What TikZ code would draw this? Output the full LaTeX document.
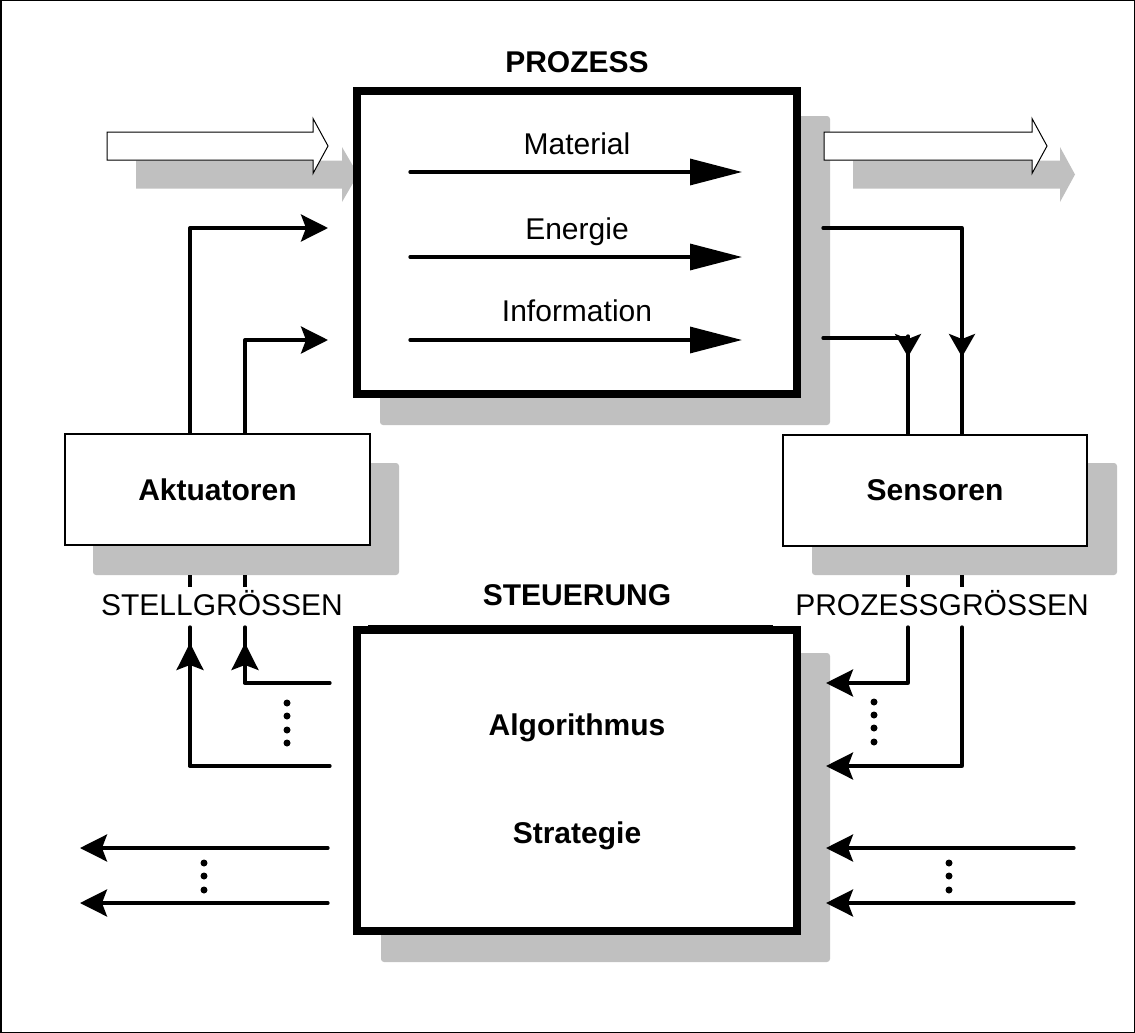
\documentclass[tikz,border=0pt]{standalone}
\usepackage{fontspec}
\setmainfont{Liberation Sans}
\usetikzlibrary{arrows.meta}
\definecolor{shadowgray}{RGB}{192,192,192}
\tikzset{
  bigbox/.style={draw, fill=white, line width=7.5pt, minimum width=440pt, minimum height=303pt, inner sep=0pt},
  smallbox/.style={draw, fill=white, line width=2pt, minimum width=305pt, minimum height=111pt, inner sep=0pt,
    font=\fontsize{30}{36}\selectfont\bfseries, text height=21.5pt, text depth=0pt},
  lbl/.style={inner sep=0pt, anchor=base, font=\fontsize{30}{36}\selectfont},
  blbl/.style={inner sep=0pt, anchor=base, font=\fontsize{30}{36}\selectfont\bfseries},
  conn/.style={line width=3.3pt, line cap=round, line join=round},
  tipS/.style={-{Stealth[length=27pt,width=27pt,inset=5pt]}},
  tipD/.style={-{Stealth[length=23pt,width=26pt,inset=5pt]}},
  tipBig/.style={-{Triangle[length=52pt,width=26pt]}},
  shadowfill/.style={fill=shadowgray, rounded corners=3pt},
  blkwhite/.style={draw, fill=white, line width=1pt, line join=miter},
  dotmark/.style={fill=black}
}
\begin{document}
\begin{tikzpicture}[x=1pt,y=-1pt]
\useasboundingbox (0,0) rectangle (1135,1033);
\draw[line width=1.5pt] (0.75,0.75) rectangle (1134.25,1032.25);

% block arrow shadows
\fill[shadowgray] (136,160.5) -- (342,160.5) -- (342,147) -- (358,174.5) -- (342,202) -- (342,188.5) -- (136,188.5) -- cycle;
\fill[shadowgray] (853,160.5) -- (1060,160.5) -- (1060,147) -- (1075,174.5) -- (1060,202) -- (1060,188.5) -- (853,188.5) -- cycle;

% box shadows
\fill[shadowfill] (380,116) rectangle (830,425);
\fill[shadowfill] (381,653) rectangle (830,962);
\fill[shadowfill] (93,463) rectangle (399,575);
\fill[shadowfill] (812,463) rectangle (1117,575);

% white block arrows
\draw[blkwhite] (107,132) -- (313,132) -- (313,118.5) -- (328,146) -- (313,173.5) -- (313,160) -- (107,160) -- cycle;
\draw[blkwhite] (824,132) -- (1032,132) -- (1032,118.5) -- (1047,146) -- (1032,173.5) -- (1032,160) -- (824,160) -- cycle;

% boxes
\node[bigbox] (proz) at (577,242.5) {};
\node[bigbox, minimum height=301pt] (steu) at (577,780.5) {};
\draw[line width=2pt] (368,625.5) -- (773,625.5);
\node[smallbox] (akt) at (217.5,489.5) {Aktuatoren};
\node[smallbox, minimum width=304pt] (sen) at (935,490) {Sensoren};

% titles and labels
\node[blbl] (tproz) at (577,73) {PROZESS};
\node[blbl] (tsteu) at (577,605) {STEUERUNG};
\node[lbl] (tstell) at (222,615) {STELLGRÖSSEN};
\node[lbl] (tpg) at (942,615) {PROZESSGRÖSSEN};
\node[lbl] (tmat) at (577,154) {Material};
\node[lbl] (tene) at (577,239) {Energie};
\node[lbl] (tinf) at (577,321) {Information};
\node[blbl] (talg) at (577,735) {Algorithmus};
\node[blbl] (tstr) at (577,843) {Strategie};

% coordinates
\coordinate (cA1) at (190,0);
\coordinate (cA2) at (245,0);
\coordinate (cS1) at (908,0);
\coordinate (cS2) at (962,0);
\coordinate (inA1) at (328,228);
\coordinate (inA2) at (328,340);
\coordinate (outP1) at (823,228);
\coordinate (outP2) at (823,338);
\coordinate (hS1) at (908,357);
\coordinate (hS2) at (962,357);
\coordinate (hS1t) at (908,336);
\coordinate (hS2t) at (962,333);
\coordinate (tickT) at (0,575);
\coordinate (tickB) at (0,587);
\coordinate (lowT) at (0,627);
\coordinate (upA) at (0,643);
\coordinate (rowA) at (0,683);
\coordinate (rowB) at (0,766);
\coordinate (ctlL) at (330,0);
\coordinate (ctlR) at (826,0);
\coordinate (m1s) at (410,172);
\coordinate (m1e) at (742,172);
\coordinate (m2s) at (410,257);
\coordinate (m2e) at (742,257);
\coordinate (m3s) at (410,340);
\coordinate (m3e) at (742,340);
\coordinate (bl1s) at (328,848);
\coordinate (bl1e) at (80,848);
\coordinate (bl2s) at (328,903);
\coordinate (bl2e) at (80,903);
\coordinate (br1s) at (1074,848);
\coordinate (br1e) at (826,848);
\coordinate (br2s) at (1074,903);
\coordinate (br2e) at (826,903);

% flows inside PROZESS
\draw[conn, tipBig] (m1s) -- (m1e);
\draw[conn, tipBig] (m2s) -- (m2e);
\draw[conn, tipBig] (m3s) -- (m3e);

% Aktuatoren -> PROZESS
\draw[conn, tipS] (akt.north -| cA1) |- (inA1);
\draw[conn, tipS] (akt.north -| cA2) |- (inA2);

% PROZESS -> Sensoren
\draw[conn] (outP1) -| (sen.north -| cS2);
\draw[conn] (outP2) -| (sen.north -| cS1);
\draw[conn, tipD] (hS2t) -- (hS2);
\draw[conn, tipD] (hS1t) -- (hS1);

% ticks below the small boxes
\draw[conn, line cap=butt] (cA1 |- tickT) -- (cA1 |- tickB);
\draw[conn, line cap=butt] (cA2 |- tickT) -- (cA2 |- tickB);
\draw[conn, line cap=butt] (cS1 |- tickT) -- (cS1 |- tickB);
\draw[conn, line cap=butt] (cS2 |- tickT) -- (cS2 |- tickB);

% STEUERUNG -> Aktuatoren
\draw[conn] (ctlL |- rowA) -| (cA2 |- lowT);
\draw[conn] (ctlL |- rowB) -| (cA1 |- lowT);
\draw[conn, tipS] (cA2 |- rowA) -- (cA2 |- upA);
\draw[conn, tipS] (cA1 |- rowB) -- (cA1 |- upA);

% Sensoren -> STEUERUNG
\draw[conn, tipS] (cS1 |- lowT) |- (ctlR |- rowA);
\draw[conn, tipS] (cS2 |- lowT) |- (ctlR |- rowB);

% other outputs and inputs of STEUERUNG
\draw[conn, tipS] (bl1s) -- (bl1e);
\draw[conn, tipS] (bl2s) -- (bl2e);
\draw[conn, tipS] (br1s) -- (br1e);
\draw[conn, tipS] (br2s) -- (br2e);

% dots
\foreach \y in {703,716,730,743} \fill[dotmark] (287,\y) circle (3.5pt);
\foreach \y in {702,715,728,742} \fill[dotmark] (874,\y) circle (3.5pt);
\foreach \y in {863,876,890} \fill[dotmark] (204,\y) circle (3.5pt);
\foreach \y in {863,876,890} \fill[dotmark] (949,\y) circle (3.5pt);
\end{tikzpicture}
\end{document}
